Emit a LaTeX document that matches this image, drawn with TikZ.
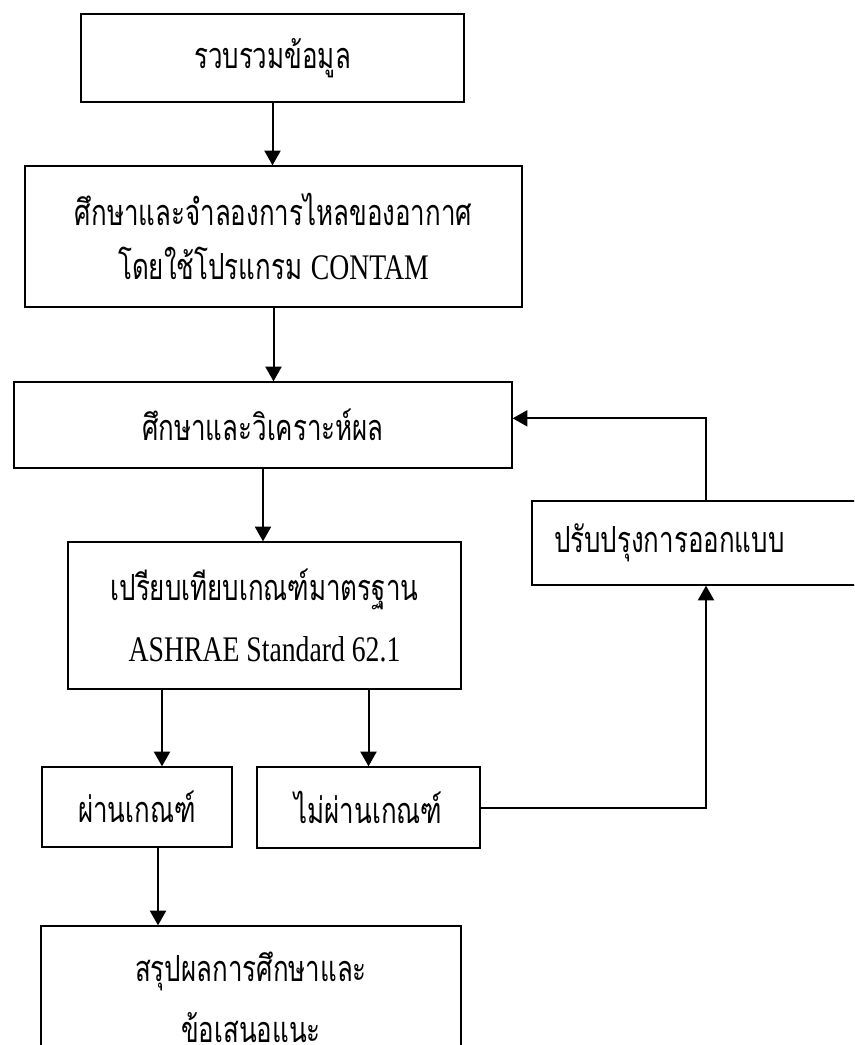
\documentclass[tikz,border=0pt]{standalone}
\usepackage{fontspec}
\setmainfont[FakeStretch=0.77]{Liberation Serif}
\newfontfamily\thai[Script=Thai,FakeStretch=0.72]{Loma}
\usetikzlibrary{arrows.meta}
\begin{document}
\begin{tikzpicture}[x=0.75pt,y=-0.75pt,
	box/.style={draw,line width=1pt,inner sep=0pt,align=center,font=\thai\fontsize{27}{40}\selectfont},
	arr/.style={line width=1.5pt,-{Triangle[length=11pt,width=12pt]}}]
	\useasboundingbox (0,0) rectangle (854,1045);
	\clip (0,0) rectangle (854,1045);
	\node[box,minimum width=287.25pt,minimum height=66pt] (collect) at (272.5,58) {รวบรวมข้อมูล};
	\node[box,minimum width=372.75pt,minimum height=105.75pt] (model) at (273.5,236.5) {ศึกษาและจำลองการไหลของอากาศ\\ โดยใช้โปรแกรม {\rmfamily CONTAM}};
	\node[box,minimum width=373.5pt,minimum height=64.5pt] (analyse) at (263,425) {ศึกษาและวิเคราะห์ผล};
	\node[box,minimum width=294.75pt,minimum height=110.25pt] (compare) at (264.5,615.5) {เปรียบเทียบเกณฑ์มาตรฐาน\\[6pt] {\rmfamily ASHRAE Standard 62.1}};
	\node[box,minimum width=261pt,minimum height=63pt,text width=228pt,inner xsep=16.5pt,align=left] (improve) at (706,543) {ปรับปรุงการออกแบบ};
	\node[box,minimum width=142.5pt,minimum height=60pt] (pass) at (137,807) {ผ่านเกณฑ์};
	\node[box,minimum width=167.25pt,minimum height=60.75pt] (fail) at (368.5,807.5) {ไม่ผ่านเกณฑ์};
	\node[box,minimum width=315pt,minimum height=107.25pt] (summary) at (251,997.5) {สรุปผลการศึกษาและ\\[6pt] ข้อเสนอแนะ};
	\draw[arr] (collect.south) -- (collect.south |- model.north);
	\draw[arr] (model.south) -- (model.south |- analyse.north);
	\draw[arr] (analyse.south) -- (analyse.south |- compare.north);
	\draw[arr] (162,0 |- compare.south) -- (162,0 |- pass.north);
	\draw[arr] (fail.north |- compare.south) -- (fail.north);
	\draw[arr] (158,0 |- pass.south) -- (158,0 |- summary.north);
	\draw[arr] (fail.east) -| (improve.south);
	\draw[arr] (improve.north) |- ([yshift=5pt]analyse.east);
\end{tikzpicture}
\end{document}
